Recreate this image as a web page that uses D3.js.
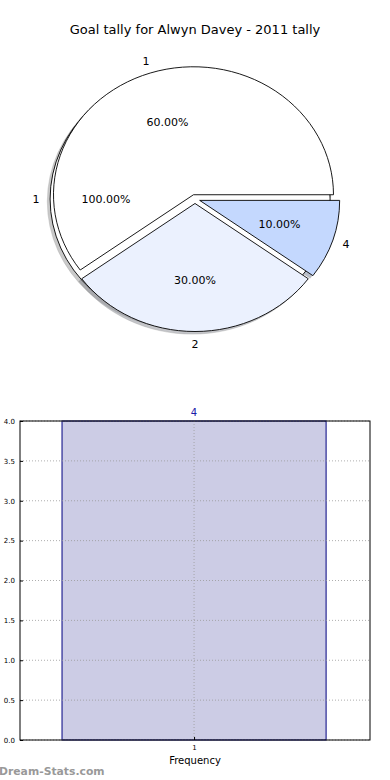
<!DOCTYPE html>
<html><head><meta charset="utf-8">
<script src="https://cdn.jsdelivr.net/npm/d3@7"></script>
<style>body{margin:0;background:#fff}svg{display:block}text{font-family:"DejaVu Sans",sans-serif}</style>
</head><body><svg id="c" width="390" height="780"></svg>
<script>
const title = "Goal tally for Alwyn Davey - 2011 tally";
// background pie (single slice)
const bgLabels = ["1"];
const bgValues = [1];
// main pie
const pieLabels = ["1", "2", "4"];
const pieValues = [60, 30, 10];
const pieColors = ["#ffffff", "#ebf1fe", "#c4d8fe"];
// bar chart
const barCats = ["1"];
const barValues = [4];
const yTicks = [0, 0.5, 1, 1.5, 2, 2.5, 3, 3.5, 4];

const svg = d3.select("#c");
svg.append("text").attr("x", 195).attr("y", 34).attr("text-anchor", "middle")
  .attr("font-size", 13).text(title);

const cx = 195, cy = 199, rx = 140, ry = 128, expl = 0.035;
const pie = d3.pie().sort(null).startAngle(Math.PI / 2).endAngle(Math.PI / 2 - 2 * Math.PI);
const arc = d3.arc().innerRadius(0).outerRadius(1);

function prep(values, labels, colors) {
  const total = d3.sum(values);
  return pie(values).map((d, i) => {
    const mid = Math.PI / 2 - (d.startAngle + d.endAngle) / 2; // math angle ccw
    const ox = cx + expl * rx * Math.cos(mid), oy = cy - expl * ry * Math.sin(mid);
    return {d, mid, ox, oy, label: labels[i], color: colors[i], pct: (100 * values[i] / total).toFixed(2) + "%"};
  });
}
const bg = prep(bgValues, bgLabels, ["#ffffff"]);
const fg = prep(pieValues, pieLabels, pieColors);
const all = bg.concat(fg);

// shadows first
const gs = svg.append("g");
all.forEach(s => {
  gs.append("path").attr("d", arc(s.d))
    .attr("transform", `translate(${s.ox - 2.8},${s.oy + 2.6}) scale(${rx},${ry})`)
    .attr("fill", d3.color(s.color).darker(1.5)).attr("opacity", 0.5)
    .attr("stroke", "#444").attr("stroke-width", 0.6).attr("stroke-opacity", 0.6)
    .attr("vector-effect", "non-scaling-stroke");
});
// wedges
all.forEach(s => {
  svg.append("path").attr("d", arc(s.d))
    .attr("transform", `translate(${s.ox},${s.oy}) scale(${rx},${ry})`)
    .attr("fill", s.color).attr("stroke", "#000").attr("stroke-width", 0.9)
    .attr("vector-effect", "non-scaling-stroke").attr("stroke-linejoin", "miter");
});
// labels
all.forEach(s => {
  svg.append("text").attr("x", s.ox + 1.1 * rx * Math.cos(s.mid)).attr("y", s.oy - 1.1 * ry * Math.sin(s.mid))
    .attr("text-anchor", "middle").attr("dy", "0.35em").attr("font-size", 11).text(s.label);
  svg.append("text").attr("x", s.ox + 0.6 * rx * Math.cos(s.mid)).attr("y", s.oy - 0.6 * ry * Math.sin(s.mid))
    .attr("text-anchor", "middle").attr("dy", "0.35em").attr("font-size", 11).text(s.pct);
});

// bar chart
const L = 20, R = 370, T = 421, B = 740;
const x = d3.scaleLinear().domain([0.4727, 1.533]).range([L, R]);
const y = d3.scaleLinear().domain([0, 4]).range([B, T]);
const bw = 0.8;
const gb = svg.append("g");
gb.append("rect").attr("x", L).attr("y", T).attr("width", R - L).attr("height", B - T).attr("fill", "#fff");
barValues.forEach((v, i) => {
  const c = +barCats[i];
  gb.append("rect").attr("x", x(c - bw / 2)).attr("y", y(v)).attr("width", x(c + bw / 2) - x(c - bw / 2))
    .attr("height", y(0) - y(v)).attr("fill", "#ccccE5").attr("stroke", "#000080").attr("stroke-width", 1);
  gb.append("text").attr("x", x(c)).attr("y", y(v) - 5).attr("text-anchor", "middle")
    .attr("font-size", 10).attr("fill", "#1a1aa8").text(v);
});
// grid
yTicks.forEach(t => {
  gb.append("line").attr("x1", L).attr("x2", R).attr("y1", y(t)).attr("y2", y(t))
    .attr("stroke", "#999").attr("stroke-width", 0.8).attr("stroke-dasharray", "1,2");
});
barCats.forEach(c => {
  gb.append("line").attr("x1", x(+c)).attr("x2", x(+c)).attr("y1", T).attr("y2", B)
    .attr("stroke", "#999").attr("stroke-width", 0.8).attr("stroke-dasharray", "1,2");
});
// axes
const ya = gb.append("g").attr("transform", `translate(${L},0)`)
  .call(d3.axisLeft(y).tickValues(yTicks).tickFormat(d3.format(".1f")).tickSize(-3).tickPadding(5));
ya.select(".domain").remove();
ya.selectAll("text").attr("font-size", 7).attr("font-family", "DejaVu Sans").attr("fill", "#000");
ya.selectAll("line").attr("stroke", "#000");
const xa = gb.append("g").attr("transform", `translate(0,${B})`)
  .call(d3.axisBottom(x).tickValues(barCats.map(Number)).tickFormat(d3.format("d")).tickSize(-3).tickPadding(5));
xa.select(".domain").remove();
xa.selectAll("text").attr("font-size", 7).attr("font-family", "DejaVu Sans").attr("fill", "#000");
gb.append("rect").attr("x", L).attr("y", T).attr("width", R - L).attr("height", B - T)
  .attr("fill", "none").attr("stroke", "#000").attr("stroke-width", 1);
svg.append("text").attr("x", 195).attr("y", 764).attr("text-anchor", "middle").attr("font-size", 10).text("Frequency");
svg.append("text").attr("x", -1).attr("y", 775).attr("font-size", 10.8).attr("font-weight", 600)
  .attr("fill", "#999").attr("font-family", "Open Sans, DejaVu Sans").text("Dream-Stats.com");
</script></body></html>
